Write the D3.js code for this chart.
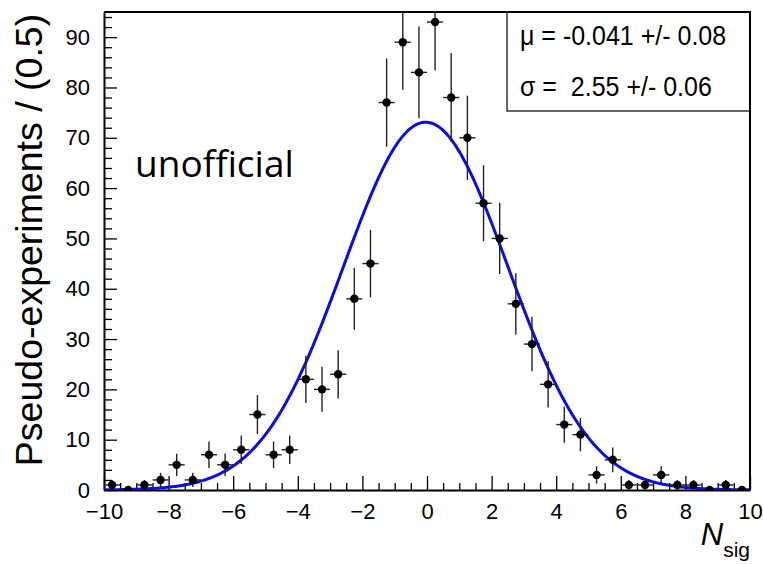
<!DOCTYPE html>
<html>
<head>
<meta charset="utf-8">
<script src="https://cdn.jsdelivr.net/npm/d3@7"></script>
<style>
  html, body { margin: 0; padding: 0; background: #fff; }
  svg { display: block; }
  .axis text { font-family: "Liberation Sans", Arial, sans-serif; font-size: 22px; fill: #000; }
  .axis path { stroke: #000; stroke-width: 2px; }
  .axis line { stroke: #000; stroke-width: 1.3px; }
</style>
</head>
<body>
<svg id="chart" width="763" height="564"></svg>
<script>
// Bin centres of the pseudo-experiment histogram (bin width 0.5)
const binCenters = [
  -9.75, -9.25, -8.75, -8.25, -7.75, -7.25, -6.75, -6.25, -5.75, -5.25,
  -4.75, -4.25, -3.75, -3.25, -2.75, -2.25, -1.75, -1.25, -0.75, -0.25,
   0.25,  0.75,  1.25,  1.75,  2.25,  2.75,  3.25,  3.75,  4.25,  4.75,
   5.25,  5.75,  6.25,  6.75,  7.25,  7.75,  8.25,  8.75,  9.25,  9.75
];
// Entries per bin
const binCounts = [
   1,  0,  1,  2,  5,  2,  7,  5,  8, 15,
   7,  8, 22, 20, 23, 38, 45, 77, 89, 83,
  93, 78, 70, 57, 50, 37, 29, 21, 13, 11,
   3,  6,  1,  1,  3,  1,  1,  0,  1,  0
];
const binWidth = 0.5;

// Gaussian fit result
const fitMean = -0.041;
const fitMeanErr = 0.08;
const fitSigma = 2.55;
const fitSigmaErr = 0.06;
const fitAmplitude = 73.1;

// Axis ticks
const xMajorTicks = [-10, -8, -6, -4, -2, 0, 2, 4, 6, 8, 10];
const yMajorTicks = [0, 10, 20, 30, 40, 50, 60, 70, 80, 90];

const svg = d3.select("#chart");
const plotLeft = 104, plotRight = 750, plotTop = 12, plotBottom = 490;

const x = d3.scaleLinear().domain([-10, 10]).range([plotLeft, plotRight]);
const y = d3.scaleLinear().domain([0, 95]).range([plotBottom, plotTop]);

svg.append("defs").append("clipPath").attr("id", "frame")
  .append("rect").attr("x", plotLeft).attr("y", plotTop)
  .attr("width", plotRight - plotLeft).attr("height", plotBottom - plotTop);

// Minor ticks
const xMinor = d3.range(-10, 10.001, 0.5).filter(v => !xMajorTicks.includes(v));
const yMinor = d3.range(0, 95, 2).filter(v => !yMajorTicks.includes(v));

svg.append("g").attr("class", "axis")
  .attr("transform", `translate(0,${plotBottom})`)
  .call(d3.axisBottom(x).tickValues(xMinor).tickFormat("").tickSizeInner(-7).tickSizeOuter(0))
  .call(g => g.select(".domain").remove());
svg.append("g").attr("class", "axis")
  .attr("transform", `translate(${plotLeft},0)`)
  .call(d3.axisLeft(y).tickValues(yMinor).tickFormat("").tickSizeInner(-8).tickSizeOuter(0))
  .call(g => g.select(".domain").remove());

// Major ticks and labels
svg.append("g").attr("class", "axis")
  .attr("transform", `translate(0,${plotBottom})`)
  .call(d3.axisBottom(x).tickValues(xMajorTicks).tickSizeInner(-14).tickSizeOuter(0).tickPadding(13));
svg.append("g").attr("class", "axis")
  .attr("transform", `translate(${plotLeft},0)`)
  .call(d3.axisLeft(y).tickValues(yMajorTicks).tickSizeInner(-13).tickSizeOuter(0).tickPadding(14));

// Fitted Gaussian
const gauss = v => fitAmplitude * Math.exp(-0.5 * Math.pow((v - fitMean) / fitSigma, 2));
const curvePts = d3.range(-10, 10.0001, 0.05).map(v => [v, gauss(v)]);
svg.append("path")
  .datum(curvePts)
  .attr("clip-path", "url(#frame)")
  .attr("fill", "none")
  .attr("stroke", "#0a0aee")
  .attr("stroke-width", 3)
  .attr("d", d3.line().x(d => x(d[0])).y(d => y(d[1])));

// Data points with error bars
const pts = binCenters.map((c, i) => ({ c, n: binCounts[i] }));
const gPts = svg.append("g").attr("clip-path", "url(#frame)");
gPts.selectAll("line.ey").data(pts.filter(d => d.n > 0)).join("line")
  .attr("class", "ey")
  .attr("x1", d => x(d.c)).attr("x2", d => x(d.c))
  .attr("y1", d => y(d.n - Math.sqrt(d.n))).attr("y2", d => y(d.n + Math.sqrt(d.n)))
  .attr("stroke", "#222").attr("stroke-width", 1.4);
gPts.selectAll("line.ex").data(pts).join("line")
  .attr("class", "ex")
  .attr("x1", d => x(d.c - binWidth / 2)).attr("x2", d => x(d.c + binWidth / 2))
  .attr("y1", d => y(d.n)).attr("y2", d => y(d.n))
  .attr("stroke", "#222").attr("stroke-width", 1.4);
gPts.selectAll("circle").data(pts).join("circle")
  .attr("cx", d => x(d.c)).attr("cy", d => y(d.n)).attr("r", 4.2)
  .attr("fill", "#000");

// Axis titles
svg.append("text")
  .attr("transform", "translate(42,240) rotate(-90)")
  .attr("text-anchor", "middle")
  .style("font-family", "'Liberation Sans', Arial, sans-serif")
  .style("font-size", "37.5px")
  .text("Pseudo-experiments / (0.5)");

const xt = svg.append("text")
  .attr("x", plotRight).attr("y", 545)
  .attr("text-anchor", "end")
  .style("font-family", "'Liberation Sans', Arial, sans-serif");
xt.append("tspan").style("font-size", "31px").style("font-style", "italic").text("N");
xt.append("tspan").style("font-size", "21px").attr("dy", 12).text("sig");

// Statistics box
svg.append("rect")
  .attr("x", 507).attr("y", plotTop).attr("width", plotRight - 507).attr("height", 111 - plotTop)
  .attr("fill", "#fff").attr("stroke", "#000").attr("stroke-width", 1.2);

// Frame (top and right edges)
svg.append("path")
  .attr("d", `M${plotLeft},${plotTop}H${plotRight}V${plotBottom}`)
  .attr("fill", "none").attr("stroke", "#000").attr("stroke-width", 2);

const statStyle = s => s.style("font-family", "'Liberation Sans', Arial, sans-serif").style("font-size", "25px");
svg.append("text").attr("transform", "translate(520,45) scale(1,1.12)").call(statStyle)
  .text(`\u03bc = ${fitMean} +/- ${fitMeanErr.toFixed(2)}`);
svg.append("text").attr("transform", "translate(520,96) scale(1,1.12)").call(statStyle)
  .attr("xml:space", "preserve")
  .text(`\u03c3 =  ${fitSigma.toFixed(2)} +/- ${fitSigmaErr.toFixed(2)}`);

// Watermark
svg.append("text")
  .attr("x", 135).attr("y", 177)
  .style("font-family", "'Open Sans', sans-serif")
  .style("font-size", "37px")
  .text("unofficial");
</script>
</body>
</html>
